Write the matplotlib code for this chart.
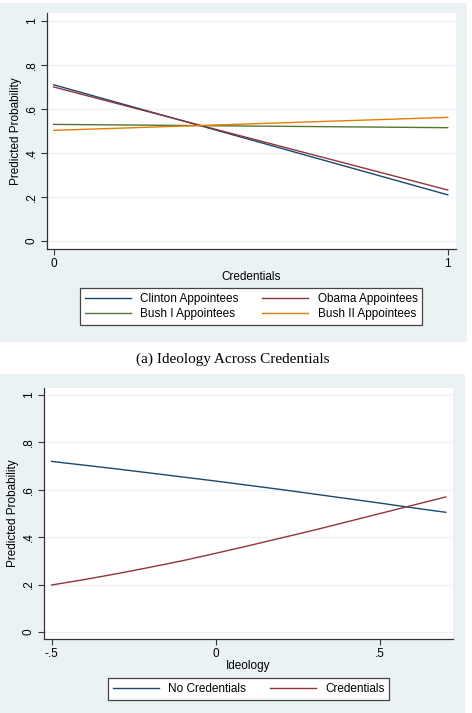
import matplotlib.pyplot as plt
from matplotlib.patches import Rectangle

# data
credenciais = [0, 1]
clinton = [0.71, 0.21]
obama = [0.70, 0.232]
bush1 = [0.53, 0.515]
bush2 = [0.503, 0.562]

ideologia = [-0.5, -0.4, -0.3, -0.2, -0.1, 0.0, 0.1, 0.2, 0.3, 0.4, 0.5, 0.6, 0.7]
sem_cred = [0.720, 0.704, 0.688, 0.671, 0.654, 0.637, 0.619, 0.601, 0.582, 0.563, 0.544, 0.524, 0.505]
com_cred = [0.198, 0.221, 0.246, 0.273, 0.301, 0.332, 0.364, 0.397, 0.430, 0.465, 0.500, 0.535, 0.570]

ytick_vals = [0, 0.2, 0.4, 0.6, 0.8, 1]
ytick_labels = ['0', '.2', '.4', '.6', '.8', '1']

cores = {'navy': '#1a476f', 'maroon': '#90353b', 'verde': '#55752f', 'laranja': '#e37e00'}
fundo = '#eaf2f3'

plt.rcParams['font.family'] = ['Liberation Sans', 'DejaVu Sans']

W, H = 472, 713
fig = plt.figure(figsize=(W / 100, H / 100), dpi=100)


def caixa(x0, y0, x1, y1):
    # converte pixels (topo-esquerda) em coordenadas da figura
    return [x0 / W, 1 - y1 / H, (x1 - x0) / W, (y1 - y0) / H]


# fundos dos dois painéis
for (x0, y0, x1, y1) in [(0, 3, 467, 342), (0, 374, 465, 713)]:
    r = caixa(x0, y0, x1, y1)
    fig.patches.append(Rectangle((r[0], r[1]), r[2], r[3], transform=fig.transFigure,
                                 facecolor=fundo, edgecolor='none', zorder=-5))


def estilo(ax):
    ax.set_facecolor('white')
    for s in ['top', 'right']:
        ax.spines[s].set_visible(False)
    for s in ['left', 'bottom']:
        ax.spines[s].set_color('#333333')
        ax.spines[s].set_linewidth(0.9)
    ax.set_yticks(ytick_vals)
    ax.set_yticklabels(ytick_labels, rotation=90, va='center')
    ax.tick_params(direction='out', length=4.5, width=0.8, color='#333333', labelsize=8.5, pad=2)
    ax.grid(axis='y', color=fundo, linewidth=0.9)
    ax.set_axisbelow(True)
    ax.set_ylabel('Predicted Probability', fontsize=8.5, labelpad=3)


def legenda(handles, labels, cx, cy):
    leg = fig.legend(handles, labels, ncol=2, fontsize=8.5, loc='center',
                     bbox_to_anchor=(cx / W, 1 - cy / H), frameon=True, fancybox=False,
                     edgecolor='#444444', facecolor='white', framealpha=1,
                     handlelength=3.9, columnspacing=2.0, labelspacing=0.25,
                     borderpad=0.4, handletextpad=0.8)
    leg.get_frame().set_linewidth(0.9)
    return leg


# painel (a)
ax1 = fig.add_axes(caixa(47, 13, 456, 249))
estilo(ax1)
ax1.plot(credenciais, clinton, color=cores['navy'], lw=1.0, label='Clinton Appointees')
ax1.plot(credenciais, obama, color=cores['maroon'], lw=1.0, label='Obama Appointees')
ax1.plot(credenciais, bush1, color=cores['verde'], lw=1.0, label='Bush I Appointees')
ax1.plot(credenciais, bush2, color=cores['laranja'], lw=1.0, label='Bush II Appointees')
ax1.set_xlim(-0.017, 1.021)
ax1.set_ylim(-0.036, 1.036)
ax1.set_xticks([0, 1])
ax1.set_xticklabels(['0', '1'])
ax1.set_xlabel('Credentials', fontsize=8.5, labelpad=1)
h, l = ax1.get_legend_handles_labels()
ordem = [0, 2, 1, 3]
legenda([h[i] for i in ordem], [l[i] for i in ordem], (82 + 420) / 2, 306.5)

fig.text(233 / W, 1 - 359 / H, '(a) Ideology Across Credentials', ha='center', va='center',
         fontsize=11, family=['Liberation Serif', 'DejaVu Serif'])

# painel (b)
ax2 = fig.add_axes(caixa(44, 388, 453, 639))
estilo(ax2)
ax2.plot(ideologia, sem_cred, color=cores['navy'], lw=1.0, label='No Credentials')
ax2.plot(ideologia, com_cred, color=cores['maroon'], lw=1.0, label='Credentials')
ax2.set_xlim(-0.523, 0.722)
ax2.set_ylim(-0.03, 1.03)
ax2.set_xticks([-0.5, 0, 0.5])
ax2.set_xticklabels(['-.5', '0', '.5'])
ax2.set_xlabel('Ideology', fontsize=8.5, labelpad=0)
legenda(*ax2.get_legend_handles_labels(), (111 + 386) / 2, 689)

plt.savefig('out.png', dpi=100, facecolor='white')
